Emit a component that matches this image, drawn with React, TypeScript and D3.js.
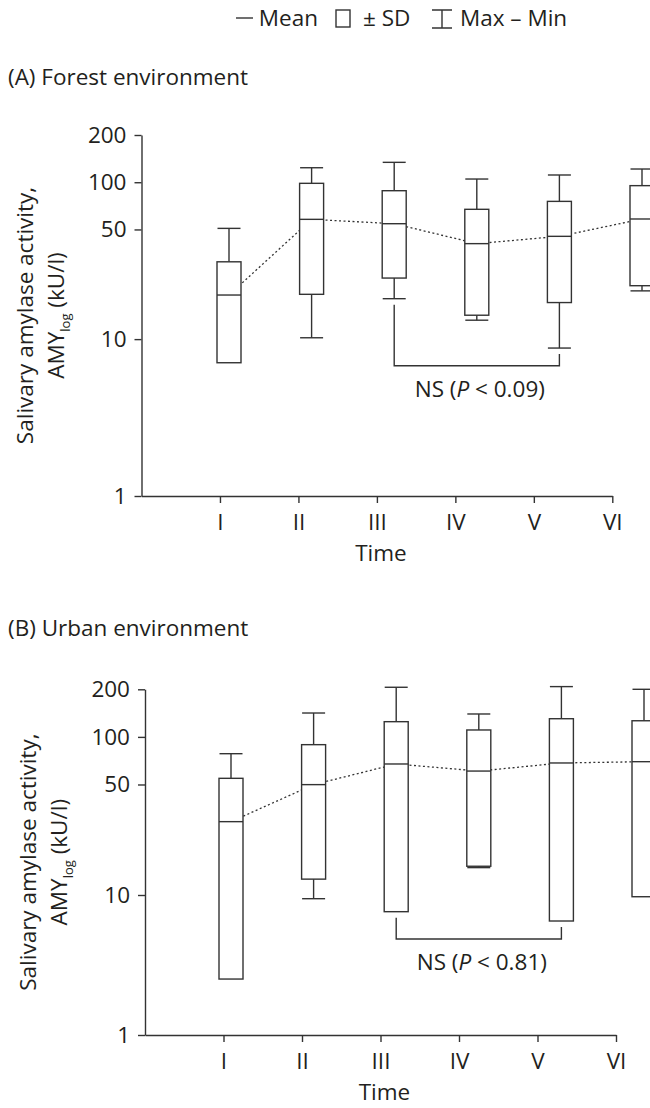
import React, { useEffect, useRef } from "react";
import * as d3 from "d3";

const timeLabels = ["I", "II", "III", "IV", "V", "VI"];
const yTicks = [1, 10, 50, 100, 200];

// (A) forest, kU/l
const forestMean = [19.1, 58, 54.4, 40.6, 45.2, 58.3];
const forestSdHigh = [31.1, 98.4, 88.3, 67.2, 75.5, 95.1];
const forestSdLow = [7.07, 19.3, 24.5, 14.2, 17.1, 21.9];
const forestMax = [50.8, 123.7, 133.9, 104.8, 111.2, 121.4];
const forestMin = [null, 10.2, 18.1, 13.2, 8.77, 20.3];

// (B) urban, kU/l
const urbanMean = [29.1, 49.9, 67.4, 60.8, 68.4, 69.7];
const urbanSdHigh = [54.7, 89.3, 124.8, 110.6, 130.3, 126.5];
const urbanSdLow = [2.51, 12.6, 7.6, 15.2, 6.52, 9.72];
const urbanMax = [78.3, 141.6, 206, 139.6, 208, 200];
const urbanMin = [null, 9.41, null, 14.9, null, null];

const FONT = "'Open Sans', sans-serif";
const INK = "#231f20";
const LINE = "#333";

const panels = [
  {
    title: "(A) Forest environment",
    mean: forestMean, sdHigh: forestSdHigh, sdLow: forestSdLow, max: forestMax, min: forestMin,
    bracket: { from: 3, to: 5, level: 6.77, p: "0.09" },
    titleY: 85,
    tickRange: [141.5, 612.3],
    boxRange: [229, 642],
    yDomain: [1, 200], yRange: [496, 135],
    labelX: [33, 64],
  },
  {
    title: "(B) Urban environment",
    mean: urbanMean, sdHigh: urbanSdHigh, sdLow: urbanSdLow, max: urbanMax, min: urbanMin,
    bracket: { from: 3, to: 5, level: 4.85, p: "0.81" },
    titleY: 636,
    tickRange: [145, 616],
    boxRange: [231, 644],
    // the printed axis is a bit squeezed below 10
    yDomain: [1, 10, 200], yRange: [1035, 895, 689.3],
    labelX: [36, 67],
  },
];

function drawPanel(svg, p) {
  const g = svg.append("g");
  const xt = d3.scaleLinear().domain([0, 6]).range(p.tickRange);
  const xb = d3.scaleLinear().domain([1, 6]).range(p.boxRange);
  const y = d3.scaleLog().domain(p.yDomain).range(p.yRange);
  const x0 = p.tickRange[0];
  const yBottom = p.yRange[0];
  const yTop = p.yRange[p.yRange.length - 1];

  g.append("text")
    .attr("x", 8)
    .attr("y", p.titleY)
    .attr("font-size", 22.5)
    .attr("fill", INK)
    .text(p.title);

  // axes
  const yAxis = d3.axisLeft(y).tickValues(yTicks).tickFormat(d3.format("d")).tickSize(7).tickSizeOuter(0).tickPadding(8);
  const ya = g.append("g").attr("transform", `translate(${x0},0)`).call(yAxis);
  const xAxis = d3.axisBottom(xt).tickValues([1, 2, 3, 4, 5, 6]).tickFormat((d) => timeLabels[d - 1]).tickSize(7).tickSizeOuter(0).tickPadding(11);
  const xa = g.append("g").attr("transform", `translate(0,${yBottom})`).call(xAxis);
  [ya, xa].forEach((a) => {
    a.attr("font-family", FONT).attr("font-size", 22.5);
    a.selectAll("path, line").attr("stroke", LINE).attr("stroke-width", 1.4);
    a.selectAll("text").attr("fill", INK);
  });

  g.append("text")
    .attr("x", (p.tickRange[0] + p.tickRange[1]) / 2 + 4)
    .attr("y", yBottom + 65)
    .attr("text-anchor", "middle")
    .attr("font-size", 22.5)
    .attr("fill", INK)
    .text("Time");

  // y label, two lines
  const cy = (yBottom + yTop) / 2;
  g.append("text")
    .attr("transform", `translate(${p.labelX[0]},${cy}) rotate(-90)`)
    .attr("text-anchor", "middle")
    .attr("font-size", 22.5)
    .attr("fill", INK)
    .text("Salivary amylase activity,");
  const l2 = g.append("text")
    .attr("transform", `translate(${p.labelX[1]},${cy}) rotate(-90)`)
    .attr("text-anchor", "middle")
    .attr("font-size", 22.5)
    .attr("fill", INK);
  l2.append("tspan").text("AMY");
  l2.append("tspan").attr("font-size", 13).attr("dy", 6).text("log");
  l2.append("tspan").attr("dy", -6).text("\u00a0(kU/l)");

  // mean line behind the boxes
  const line = d3.line().x((d, i) => xb(i + 1)).y((d) => y(d));
  g.append("path")
    .attr("d", line(p.mean))
    .attr("fill", "none")
    .attr("stroke", LINE)
    .attr("stroke-width", 1.3)
    .attr("stroke-dasharray", "2,2.5");

  const bw = 24;
  const cw = 23;
  p.mean.forEach((m, i) => {
    const cx = xb(i + 1);
    g.append("line").attr("x1", cx).attr("x2", cx).attr("y1", y(p.sdHigh[i])).attr("y2", y(p.max[i])).attr("stroke", LINE).attr("stroke-width", 1.4);
    g.append("line").attr("x1", cx - cw / 2).attr("x2", cx + cw / 2).attr("y1", y(p.max[i])).attr("y2", y(p.max[i])).attr("stroke", LINE).attr("stroke-width", 1.4);
    if (p.min[i] != null) {
      g.append("line").attr("x1", cx).attr("x2", cx).attr("y1", y(p.sdLow[i])).attr("y2", y(p.min[i])).attr("stroke", LINE).attr("stroke-width", 1.4);
      g.append("line").attr("x1", cx - cw / 2).attr("x2", cx + cw / 2).attr("y1", y(p.min[i])).attr("y2", y(p.min[i])).attr("stroke", LINE).attr("stroke-width", 1.4);
    }
    g.append("rect")
      .attr("x", cx - bw / 2)
      .attr("y", y(p.sdHigh[i]))
      .attr("width", bw)
      .attr("height", y(p.sdLow[i]) - y(p.sdHigh[i]))
      .attr("fill", "#fff")
      .attr("stroke", LINE)
      .attr("stroke-width", 1.4);
    g.append("line").attr("x1", cx - bw / 2).attr("x2", cx + bw / 2).attr("y1", y(m)).attr("y2", y(m)).attr("stroke", LINE).attr("stroke-width", 1.4);
  });

  // significance bracket
  const b = p.bracket;
  const low = (i) => y(p.min[i - 1] != null ? p.min[i - 1] : p.sdLow[i - 1]) + 6;
  const by = y(b.level);
  g.append("path")
    .attr("d", `M${xb(b.from)},${low(b.from)}V${by}H${xb(b.to)}V${low(b.to)}`)
    .attr("fill", "none")
    .attr("stroke", LINE)
    .attr("stroke-width", 1.4);
  const t = g.append("text")
    .attr("x", (xb(b.from) + xb(b.to)) / 2 + 3)
    .attr("y", by + 31)
    .attr("text-anchor", "middle")
    .attr("font-size", 22.5)
    .attr("fill", INK);
  t.append("tspan").text("NS (");
  t.append("tspan").attr("font-style", "italic").text("P");
  t.append("tspan").text(" < " + b.p + ")");
}

export default function App() {
  const ref = useRef(null);

  useEffect(() => {
    const svg = d3.select(ref.current);
    svg.selectAll("*").remove();
    svg.attr("font-family", FONT);

    // legend
    const lg = svg.append("g").attr("font-size", 22.5).attr("fill", INK);
    lg.append("line").attr("x1", 236).attr("x2", 253).attr("y1", 18).attr("y2", 18).attr("stroke", LINE).attr("stroke-width", 1.4);
    lg.append("text").attr("x", 318).attr("y", 26).attr("text-anchor", "end").text("Mean");
    lg.append("rect").attr("x", 336).attr("y", 10).attr("width", 14).attr("height", 17).attr("fill", "#fff").attr("stroke", LINE).attr("stroke-width", 1.4);
    lg.append("text").attr("x", 363).attr("y", 26).text("\u00b1 SD");
    lg.append("path").attr("d", "M432,10H452M442,10V28M432,28H452").attr("fill", "none").attr("stroke", LINE).attr("stroke-width", 1.4);
    lg.append("text").attr("x", 460).attr("y", 26).text("Max \u2013 Min");

    panels.forEach((p) => drawPanel(svg, p));
  }, []);

  return (
    <svg
      ref={ref}
      width={650}
      height={1108}
      style={{ position: "absolute", left: 0, top: 0, background: "#fff" }}
    />
  );
}
